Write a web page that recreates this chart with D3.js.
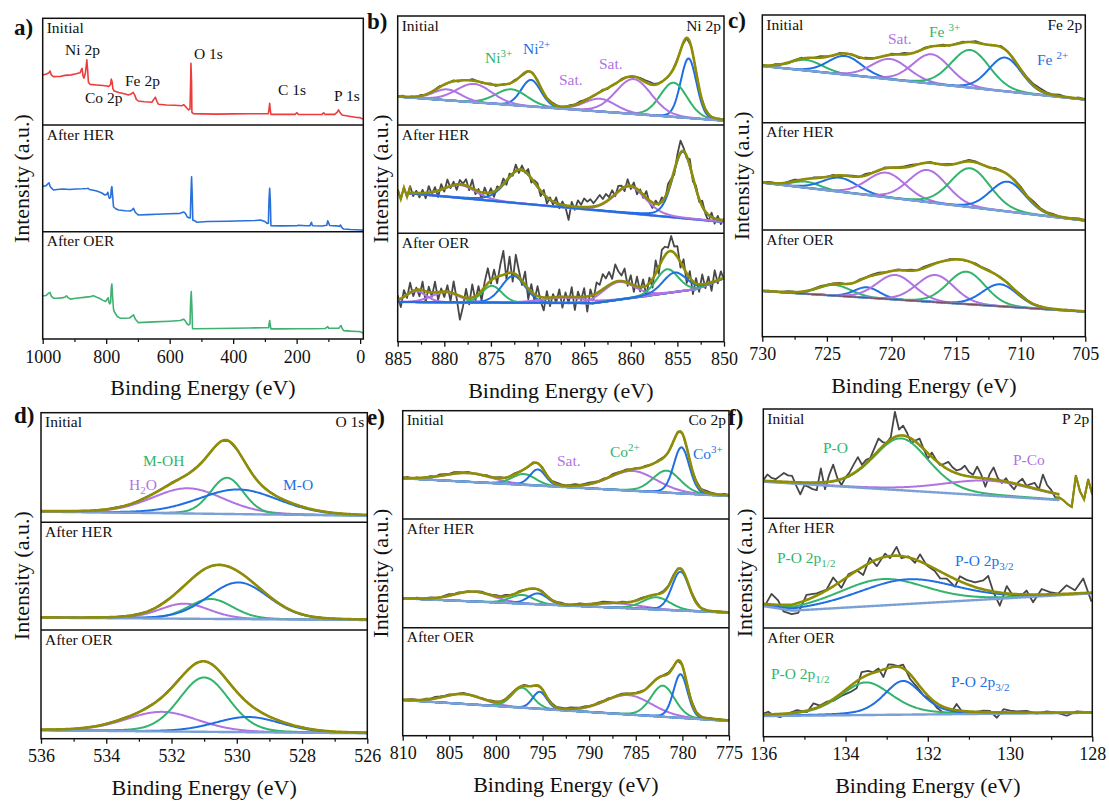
<!DOCTYPE html>
<html><head><meta charset="utf-8">
<script src="https://d3js.org/d3.v7.min.js"></script>
<style>
body{margin:0;background:#fff;}
svg, svg text{font-family:"Liberation Serif","Times New Roman",serif !important;}
</style></head><body>
<svg id="chart" width="1109" height="803" xmlns="http://www.w3.org/2000/svg"></svg>
<script>
// ================= DATA =================
const sampleNames = ["Initial", "After HER", "After OER"];
const panelLetters = ["a)", "b)", "c)", "d)", "e)", "f)"];
const coreLevels = ["", "Ni 2p", "Fe 2p", "O 1s", "Co 2p", "P 2p"];
const xTitle = "Binding Energy (eV)";
const yTitle = "Intensity (a.u.)";

const ticksA = [1000, 800, 600, 400, 200, 0];
const minorA = [900, 700, 500, 300, 100];
const ticksNi = [885, 880, 875, 870, 865, 860, 855, 850];
const minorNi = [882.5, 877.5, 872.5, 867.5, 862.5, 857.5, 852.5];
const ticksFe = [730, 725, 720, 715, 710, 705];
const minorFe = [727.5, 722.5, 717.5, 712.5, 707.5];
const ticksO = [536, 534, 532, 530, 528, 526];
const minorO = [535, 533, 531, 529, 527];
const ticksCo = [810, 805, 800, 795, 790, 785, 780, 775];
const minorCo = [807.5, 802.5, 797.5, 792.5, 787.5, 782.5, 777.5];
const ticksP = [136, 134, 132, 130, 128];
const minorP = [135, 133, 131, 129];

// survey spectra: [binding energy, relative intensity]
const surveyInitial = [[1000,47],[990,47.5],[980,49],[977,50.6],[973,47],[966,45.3],[955,45.5],[945,45.5],[930,46.5],[910,47],[895,48],[882,49],[878,52],[876,53],[873,46],[870,44],[866,48],[863,55],[861,61],[859,54],[856,40],[851,38.1],[830,37.5],[810,37],[798,36.6],[792,36],[786,38],[784,43],[781,40],[779,34],[775,31.9],[760,30.5],[740,29],[730,28.1],[722,29],[715,30.6],[710,28],[705,24],[699,22.5],[680,21.8],[665,21.5],[656,21.3],[650,24],[645,26],[640,22],[635,19.4],[610,18.8],[585,18.5],[561,18.1],[556,19],[552,18],[545,15.5],[540,14.1],[536,15],[534,40],[533,57.8],[531,40],[530,11.9],[525,10.6],[500,10.4],[450,10.2],[400,10.4],[350,10.5],[300,10.5],[289,10.6],[287,15],[285,20.3],[283,14],[281,10],[250,10],[205,10],[199,11.5],[195,10],[150,9.8],[120,10],[115,11.5],[110,10],[80,10],[72,12],[68,14.1],[64,12],[57,9.4],[40,8.5],[30,8],[20,7.5],[10,7],[0,6.9],[-5,6],[-10,5.6]];
const surveyHER = [[1000,42.5],[990,43],[983,45],[980,45.9],[976,42],[966,39.1],[955,39.5],[935,40],[915,39.5],[895,40],[875,40.2],[860,40.5],[857,40.7],[853,39.5],[840,38.8],[830,38.1],[815,36.5],[804,34.4],[798,35],[795,37],[792,33],[790,31.3],[786,32],[784,40],[782,42.2],[780,35],[777,23.4],[770,21.5],[761,20.3],[740,19.7],[724,19.4],[718,20.5],[714,21.9],[708,18],[699,15.7],[670,16],[640,16.3],[600,16.8],[567,17.2],[556,18.5],[550,17],[545,14],[540,13.1],[535,13],[533,35],[531,51.5],[529,35],[527,11],[520,10],[514,8.8],[480,9.5],[420,9.8],[360,10.2],[330,10.5],[314,11],[300,9.5],[293,7.8],[289,8],[287,30],[285,40.7],[283,30],[281,5.6],[250,5.5],[199,5.6],[195,6],[170,5.6],[158,5.6],[155,8],[153,8.8],[151,6],[148,5.6],[120,5.4],[105,6],[102,10.3],[99,8],[96,5.8],[75,5.5],[65,5],[62,6.3],[58,4],[52,2.5],[30,2],[10,1.8],[0,1.6],[-10,1.5]];
const surveyOER = [[1000,40],[990,40.5],[980,43],[977,43.4],[973,40],[966,38.1],[955,38],[940,38.3],[930,39],[925,40.3],[920,38.5],[913,37.2],[895,38],[870,38.8],[850,39.5],[840,40.3],[830,39],[823,38.2],[810,36],[802,35],[797,37],[794,38.5],[791,34],[789,32.8],[786,34],[784,48],[782,51.3],[780,40],[777,28],[775,25.6],[765,21],[756,19.4],[740,19.4],[727,19.6],[720,21],[714,22.5],[708,18.5],[699,15.3],[650,16],[600,16.6],[567,17.2],[556,18.5],[550,16.5],[545,14],[540,13.1],[536,14],[534,35],[532,44.3],[530,30],[528,9.7],[520,9.6],[450,9.8],[400,10],[350,10.3],[300,10.5],[288,10.6],[287,14],[285,17.2],[283,13],[281,9.4],[250,9.4],[200,9.5],[150,9.6],[110,9.8],[104,11],[102,11.5],[99,10],[67,10],[62,12],[60,12.5],[57,10],[52,7.8],[30,7.3],[10,7],[0,6.9],[-10,5.3]];
const surveyLabels = ["Ni 2p", "Co 2p", "Fe 2p", "O 1s", "C 1s", "P 1s"];

// fitted components: [center eV, height, FWHM eV, species]; backgrounds: [eV, intensity]
const niInitialBg = [[885,26],[850,4]];
const niInitialPeaks = [[853.8,54.6,2.0,"Ni2+"],[855.4,31.4,3.4,"Ni3+"],[859.7,32,4.5,"Sat."],[863.3,11.7,4,"Sat."],[870.7,24.3,2.5,"Ni2+"],[872.8,14.4,4,"Ni3+"],[876.8,16.8,4.5,"Sat."],[879.7,10,3.5,"Sat."]];
const niInitialNoise = [0,1,-1,0.5,-0.5,1,0,-1,0.5,1,-0.5,0,1,-1,0.5,0,1.5,0.5,-0.5,0,1,-1,0,0.5,-0.5,1,0,-1,0,0.5,1,-0.5,0,1,0.5,-0.5,0,1,0.5,1.5,1,0.5,-0.5,0,1,-1,0.5,0,1,0.5,-0.5,0,1,1.5,2,1,0.5,0,-0.5,0.5,1,0,-0.5,0.5,0,-1,0.5,0,-0.5,0.5,0];
const niHERBg = [[883.8,36.9],[850,10.4]];
const niHERPeaks = [[878.3,11.9,4,"Sat."],[871.8,30.8,3.8,"Ni2+"],[860.1,24.7,4,"Sat."],[854.4,61.4,2.6,"Ni2+"]];
const niHERNoise = [3,-6,5,-4,6,-3,2,-4,3,-5,6,-2,4,-6,5,-3,7,-2,3,-5,4,1,6,-3,8,-4,2,-6,5,-2,4,-5,3,-1,5,-4,3,-2,6,-3,4,-1,5,-4,2,3,-5,4,-6,2,-3,5,-4,3,-2,-13,4,-3,6,2,8,5,7,3,6,9,4,7,2,6,-2,5,3,-4,6,-3,4,-5,2,-3,6,-2,-5,3,-1,4,-3,6,2,-4,5,11,3,-2,6,-4,3,-3,5,-2,-6,4,-5,3,-4,2];
const niOERBg = [[885,36.6],[864,35.5],[853,48.5],[850,58.5]];
const niOERPeaks = [[883,10,2.5,"Sat."],[879.9,9.2,3.5,"Sat."],[874.9,15.5,2.5,"Ni3+"],[872.6,24.8,3,"Ni2+"],[867,5,6,"Sat."],[861.3,16.3,4,"Sat."],[856.1,22,2.8,"Ni3+"],[855.3,18,3,"Ni2+"]];
const niOERNoise = [4,-8,6,-3,9,-5,2,-6,8,-10,5,-4,10,-7,3,-5,6,-8,11,-4,-22,-9,8,-6,12,-4,7,-9,5,14,-3,8,-6,10,22,-5,15,-8,18,6,-4,12,-10,7,-6,9,-4,-12,6,-8,3,-5,7,-10,4,-6,9,-12,5,-3,8,-14,6,-4,10,6,14,8,12,4,16,9,5,12,-3,8,-6,9,-4,7,-10,5,-8,12,-6,10,8,4,14,6,10,-5,8,-9,6,-12,5,-7,9,-4,6,-8,10,-3,7,-2];

const feInitialBg = [[730,52.6],[705,21.4]];
const feInitialPeaks = [[726.6,9.9,3,"Fe3+"],[723.6,17.3,3.1,"Fe2+"],[720.1,18.9,3.4,"Sat."],[716.9,27.3,3.4,"Sat."],[713.9,35,3.5,"Fe3+"],[711.2,31.3,3,"Fe2+"]];
const feInitialNoise = [0.5,-0.5,1,0,-1,0.5,1,-0.5,0,1.5,0.5,-0.5,1,0,0.5,-1,1,0.5,0,-0.5,1,0.5,1.5,0,-0.5,1,0.5,0,1,-0.5,0.5,1,0,1.5,0.5,-0.5,0,1,0.5,-1,0.5,1,1.5,2,1,0.5,1.5,0,-0.5,1,0];
const feHERBg = [[730,44.1],[705,8.7]];
const feHERPeaks = [[726.6,5.7,2.5,"Fe3+"],[724,13.1,3.2,"Fe2+"],[720.4,22.9,3.5,"Sat."],[717.2,29.9,3.5,"Sat."],[713.9,36.2,3.6,"Fe3+"],[711,27.8,3.2,"Fe2+"]];
const feHERNoise = [0,1,0.5,-0.5,1,1.5,0,-0.5,1,0.5,0,1,-1,0.5,1,0,1.5,0.5,-0.5,1,0,0.5,1,1.5,0.5,0,1,-0.5,0.5,1,0,0.5,1.5,1,0,-0.5,1,0.5,0,1,1.5,0.5,2,1,0.5,1,0,-0.5,0.5,1,0];
const feOERBg = [[730,42.8],[705,23.4]];
const feOERPeaks = [[724.4,10,3,"Fe3+"],[721.9,9.8,2.3,"Fe2+"],[719.7,23,3.4,"Sat."],[716.6,25.4,3.4,"Sat."],[714.2,30.4,3.4,"Fe3+"],[711.6,20.6,3.2,"Fe2+"]];
const feOERNoise = [0,0.5,-0.5,0,1,0.5,0,-0.5,0.5,1,0,0.5,1,0,-0.5,1,0.5,1,1.5,0.5,0,1,0.5,1,0,1.5,1,0.5,0,1,0.5,-0.5,0,1,0.5,1,0,-0.5,0.5,0,1,0.5,0,0.5,-0.5,0,-1,0.5,0,-0.5,0];

const oInitialBg = [[536,9.7],[526,6]];
const oInitialPeaks = [[531.5,23,2.6,"H2O"],[530.3,33,1.2,"M-OH"],[529.95,22.5,2.9,"M-O"]];
const oInitialNoise = [0,0.3,-0.3,0.2,0,0.4,-0.2,0.3,0,0.5,0.2,-0.3,0.4,0.6,0.3,0.5,0.8,0.4,0.2,0.5,0.3,0,0.4,0.2,-0.2,0.3,0.1,0,0.3,-0.2,0.2,0,0.3,-0.3,0.1,0.2,-0.2,0,0.2,-0.1,0];
const oHERBg = [[536,11.4],[526,9.3]];
const oHERPeaks = [[531.6,14,1.8,"H2O"],[530.8,18.5,1.6,"M-OH"],[529.95,34,2.2,"M-O"]];
const oHERNoise = [0,-0.2,0.3,0,0.2,-0.3,0.3,0.1,0.4,0,0.5,0.3,0.6,0.2,0.4,0.7,0.3,0.5,0.2,0.6,0.4,0.1,0.3,0.5,0,0.2,-0.2,0.3,0,0.2,0.1,-0.2,0.2,0,0.3,-0.1,0.1,0.2,0,-0.2,0];
const oOERBg = [[536,7.7],[526,5]];
const oOERPeaks = [[532.3,18,2.6,"H2O"],[531,50,1.8,"M-OH"],[529.65,14,2.4,"M-O"]];
const oOERNoise = [0,0.2,-0.2,0.3,0.1,0,0.3,-0.2,0.4,0.2,0.5,0.3,0.2,0.6,0.4,0.3,0.7,0.5,0.3,0.6,0.2,0.4,0.3,0.1,0.4,0.2,0,0.3,-0.2,0.2,0.1,0,0.3,-0.1,0.2,0,-0.2,0.1,0,0.2,0];

const coInitialBg = [[810,37.6],[775,21.2]];
const coInitialPeaks = [[803,8,6,"Sat."],[797,10,3,"Co2+"],[795.5,15,2,"Co3+"],[785.3,18.3,6,"Sat."],[781.7,20.3,3.5,"Co2+"],[780.1,42.6,2,"Co3+"]];
const coInitialNoise = [0,1,-0.5,0.5,-1,0.5,1,0,1.5,1,0.5,1.5,1,0.5,1,0,0.5,-0.5,1,0,0.5,1,-0.5,0,1,0.5,0,-0.5,1,0.5,1,0,0.5,1.5,1,0.5,1,1.5,0.5,1,1.5,1,0.5,1,0,1.5,1,0.5,1,0,0.5,-0.5,1,0.5,0,1,0.5,-0.5,0,1,0.5,0,-0.5,1,0.5,1.5,1,0.5,0,1,0.5];
const coHERBg = [[810,27],[775,13.8]];
const coHERPeaks = [[802.4,9,5,"Sat."],[797.2,8,3,"Co2+"],[795.5,10,2.5,"Co3+"],[786.9,4,6,"Sat."],[782.8,11.3,3.5,"Co2+"],[780.2,35.8,2.2,"Co3+"]];
const coHERNoise = [0,0.5,-0.5,1,0,0.5,1,0.5,0,1,1.5,0.5,1,0,0.5,-0.5,0.5,1,0,0.5,1,0.5,1.5,0.5,0,1,0.5,0,-0.5,0.5,1,0.5,0,0.5,1,0,-0.5,0.5,1,0.5,0,0.5,1,1.5,1,0.5,0,1,0.5,0,0.5,1,0.5,0,-0.5,0.5,1,0.5,1.5,1,0.5,0,0.5,1,0,0.5,-0.5,0,0.5,0,0];
const coOERBg = [[810,33],[775,13.6]];
const coOERPeaks = [[803.5,9,5,"Sat."],[797.2,18.5,2.6,"Co2+"],[795.3,15.8,1.8,"Co3+"],[785.8,18,6,"Sat."],[782.1,28.8,3,"Co2+"],[780.2,40.4,1.8,"Co3+"]];
const coOERNoise = [0,0.5,1,0.5,0,1,0.5,1.5,1,0.5,1,0,0.5,1,0.5,0,-0.5,0.5,0,1,0.5,0,0.5,1,0.5,0,1,0.5,0,-0.5,0.5,0,1,0.5,1,0.5,1.5,1,0.5,1,0.5,0,1,0.5,1,0,0.5,1,0.5,0,0.5,1,0,0.5,0,-0.5,0.5,1,0.5,0,0.5,0,1,0.5,0,-0.5,0.5,0,0.5,0,0];

const pInitialBg = [[136,33.5],[128.8,16.7]];
const pInitialPeaks = [[132.65,47.4,1.6,"P-O"],[130.5,13.7,2.7,"P-Co"]];
const pInitialNoise = [0.5,6,3,2,5,8,6,5.7,-3,-11,-2.5,-4,-6,-7,12.7,-6.5,6,15,2,-5.5,0,3,8,12,2,3,1,6,11,4,-0.5,2,23,5.6,9,3,-4,1,6,0,-5,4,1,-1,3,7,4,2.6,5,9,4,2,10,3,-7.6,4,11,2,-2,3,-2,-5.6,2,6,0.5,3,5,0,14.6,6,2.4,-3.7,-3,-5,-8,-10,19,5,-2,16.5,3];
const pHERBg = [[136,20],[135.3,15.8],[128,31.6]];
const pHERPeaks = [[133.1,24,2.5,"P-O 2p1/2"],[132.5,22.5,2.8,"P-O 2p3/2"]];
const pHERNoise = [[135.96,-1.5],[135.8,9.6],[135.64,4],[135.51,-6],[135.31,-8.6],[135.15,-9],[134.95,4.6],[134.7,2],[134.46,0.7],[134.3,8],[134.1,-6.3],[133.93,1.8],[133.73,0.4],[133.57,-7.7],[133.41,4.5],[133.24,-6],[133.04,3],[132.92,-2],[132.76,8],[132.64,-2],[132.47,1],[132.31,-3],[132.19,6.5],[132.03,-0.6],[131.83,-2.2],[131.7,-6.3],[131.54,-3.3],[131.34,-7],[131.22,4.5],[131.06,3.7],[130.85,4.2],[130.65,8.2],[130.53,13.3],[130.41,0],[130.25,-12],[130.08,6.7],[129.92,-2.4],[129.76,-2.4],[129.6,3.6],[129.44,-7],[129.23,5],[129.03,2],[128.83,0.4],[128.63,7.7],[128.42,2.8],[128.22,13.3],[128.02,-8.2]];
const pOERBg = [[136,19],[128,22]];
const pOERPeaks = [[133.5,30,1.5,"P-O 2p1/2"],[132.6,31,1.1,"P-O 2p3/2"]];
const pOERNoise = [[136,0.9],[135.88,2.5],[135.76,-1],[135.59,-3],[135.38,0],[135.18,2.1],[134.94,-1.5],[134.78,5],[134.62,0.7],[134.46,1.3],[134.3,-1.7],[134.1,-2.6],[133.89,-5.5],[133.73,-6.5],[133.61,5.4],[133.45,3.5],[133.33,0.5],[133.2,2.5],[133.08,-6.8],[132.96,3.4],[132.84,2],[132.72,0.5],[132.6,3.4],[132.43,-4.3],[132.27,-4],[132.1,-4.1],[131.94,-1.1],[131.78,-4.2],[131.62,-5.4],[131.46,-4.8],[131.3,5.8],[131.13,-2.5],[130.97,-2],[130.81,0],[130.65,1.2],[130.49,1.1],[130.32,-5],[130.16,2.9],[130,1.6],[129.84,1],[129.6,1.6],[129.35,-1],[129.11,1],[128.87,0],[128.62,-3],[128.38,1],[128.02,0]];

// ================= STYLE / LAYOUT =================
const FONT = '"Liberation Serif", "Times New Roman", serif';
const COL = {blue:"#1f6fe3", green:"#33b46c", purple:"#b173e3", olive:"#8f8c05", raw:"#474747", bg:"#7aa0d6"};
const speciesColor = {"Ni2+":COL.blue,"Ni3+":COL.green,"Fe2+":COL.blue,"Fe3+":COL.green,"Co3+":COL.blue,"Co2+":COL.green,
  "M-O":COL.blue,"M-OH":COL.green,"H2O":COL.purple,"Sat.":COL.purple,"P-O":COL.green,"P-Co":COL.purple,
  "P-O 2p3/2":COL.blue,"P-O 2p1/2":COL.green};
const surveyColors = ["#ee3b3b","#2a70da","#3fb171"];

const panels = [
  {box:{l:42.7,r:363.3,t:18.3,b:339}, divs:[125,231.7], domain:[1000,-10], ticks:ticksA, minor:minorA,
   letter:[14,35], ylab:29, survey:[surveyInitial,surveyHER,surveyOER]},
  {box:{l:397.7,r:724,t:16,b:341.7}, divs:[125,233.3], domain:[885,850], ticks:ticksNi, minor:minorNi,
   letter:[367,29], ylab:388, fits:[
    {bg:niInitialBg,peaks:niInitialPeaks,noise:niInitialNoise,eta:0.1,smooth:true},
    {bg:niHERBg,peaks:niHERPeaks,noise:niHERNoise,eta:0.25,tail:true,bgUnder:true},
    {bg:niOERBg,peaks:niOERPeaks,noise:niOERNoise,eta:0.15,bgUnder:true}]},
  {box:{l:762.3,r:1085.3,t:15,b:336.7}, divs:[122.7,230], domain:[730,705], ticks:ticksFe, minor:minorFe,
   letter:[728,28], ylab:749, fits:[
    {bg:feInitialBg,peaks:feInitialPeaks,noise:feInitialNoise,eta:0.1,smooth:true},
    {bg:feHERBg,peaks:feHERPeaks,noise:feHERNoise,eta:0.1,smooth:true},
    {bg:feOERBg,peaks:feOERPeaks,noise:feOERNoise,eta:0.1,smooth:true,bgColor:"#7a4c5c"}]},
  {box:{l:41,r:367.3,t:412.7,b:738.7}, divs:[522.3,630], domain:[536,526], ticks:ticksO, minor:minorO,
   letter:[14,423], ylab:29, fits:[
    {bg:oInitialBg,peaks:oInitialPeaks,noise:oInitialNoise,eta:0.15,smooth:true},
    {bg:oHERBg,peaks:oHERPeaks,noise:oHERNoise,eta:0.15,smooth:true},
    {bg:oOERBg,peaks:oOERPeaks,noise:oOERNoise,eta:0.15,smooth:true}]},
  {box:{l:402.7,r:729,t:410.7,b:735.7}, divs:[519,627.7], domain:[810,775], ticks:ticksCo, minor:minorCo,
   letter:[367,425], ylab:388, fits:[
    {bg:coInitialBg,peaks:coInitialPeaks,noise:coInitialNoise,eta:0.15,smooth:true},
    {bg:coHERBg,peaks:coHERPeaks,noise:coHERNoise,eta:0.15,smooth:true},
    {bg:coOERBg,peaks:coOERPeaks,noise:coOERNoise,eta:0.15,smooth:true}]},
  {box:{l:763.3,r:1092.3,t:409,b:736.7}, divs:[518.3,628], domain:[136,128], ticks:ticksP, minor:minorP,
   letter:[728,425], ylab:752, fits:[
    {bg:pInitialBg,peaks:pInitialPeaks,noise:pInitialNoise,eta:0.25,tail:true},
    {bg:pHERBg,peaks:pHERPeaks,noise:pHERNoise,eta:0.2},
    {bg:pOERBg,peaks:pOERPeaks,noise:pOERNoise,eta:0.4}]}
];

// annotation placement (pixels)
const notes = [
  [{t:"Ni 2p",x:65,y:55},{t:"Co 2p",x:85,y:103},{t:"Fe 2p",x:125,y:86},{t:"O 1s",x:194,y:59},{t:"C 1s",x:278,y:95},{t:"P 1s",x:334,y:101}],
  [{t:"Ni",sup:"3+",c:COL.green,x:485,y:63},{t:"Ni",sup:"2+",c:COL.blue,x:523,y:54},{t:"Sat.",c:COL.purple,x:559,y:85},{t:"Sat.",c:COL.purple,x:599,y:69}],
  [{t:"Sat.",c:COL.purple,x:888,y:44},{t:"Fe ",sup:"3+",c:COL.green,x:929,y:37},{t:"Fe ",sup:"2+",c:COL.blue,x:1037,y:65}],
  [{t:"M-OH",c:COL.green,x:143,y:466},{t:"H",sub:"2",t2:"O",c:COL.purple,x:129,y:490},{t:"M-O",c:COL.blue,x:283,y:490}],
  [{t:"Sat.",c:COL.purple,x:557,y:466},{t:"Co",sup:"2+",c:COL.green,x:610,y:457},{t:"Co",sup:"3+",c:COL.blue,x:693,y:459}],
  [{t:"P-O",c:COL.green,x:823,y:453},{t:"P-Co",c:COL.purple,x:1013,y:465},
   {t:"P-O 2p",sub:"1/2",c:COL.green,x:777,y:563},{t:"P-O 2p",sub:"3/2",c:COL.blue,x:955,y:566},
   {t:"P-O 2p",sub:"1/2",c:COL.green,x:771,y:679},{t:"P-O 2p",sub:"3/2",c:COL.blue,x:951,y:687}]
];

// ================= DRAW =================
const svg = d3.select("#chart").style("font-family", FONT);
svg.append("rect").attr("width",1109).attr("height",803).attr("fill","#fff");
let clipId = 0;

function bgAt(knots, E){
  const k = knots.slice().sort((a,b)=>b[0]-a[0]);
  if (E >= k[0][0]) return k[0][1];
  if (E <= k[k.length-1][0]) return k[k.length-1][1];
  for (let i=0;i<k.length-1;i++){
    if (E<=k[i][0] && E>=k[i+1][0]){ const t=(k[i][0]-E)/(k[i][0]-k[i+1][0]); return k[i][1]+t*(k[i+1][1]-k[i][1]); }
  }
}
function comp(E,p,eta){ const d=(E-p[0])/p[2]; return p[1]*((1-eta)*Math.exp(-4*Math.LN2*d*d)+eta/(1+4*d*d)); }
function txt(sel){ return sel.style("font-family", FONT); }

panels.forEach((P, pi) => {
  const g = svg.append("g");
  const b = P.box;
  const x = d3.scaleLinear().domain(P.domain).range([b.l, b.r]);
  const edges = [b.t, P.divs[0], P.divs[1], b.b];

  for (let s=0; s<3; s++){
    const top = edges[s], bot = edges[s+1];
    const y = d3.scaleLinear().domain([0,100]).range([bot, top]);
    const id = "clip"+(clipId++);
    svg.append("clipPath").attr("id",id).append("rect").attr("x",b.l).attr("y",top).attr("width",b.r-b.l).attr("height",bot-top);
    const sg = g.append("g").attr("clip-path",`url(#${id})`);
    const line = d3.line().x(d=>x(d[0])).y(d=>y(d[1]));
    if (P.survey){
      sg.append("path").datum(P.survey[s]).attr("d",line).attr("fill","none")
        .attr("stroke",surveyColors[s]).attr("stroke-width",1.6).attr("stroke-linejoin","round");
    } else {
      const F = P.fits[s];
      const eta = F.eta;
      const hi = d3.max(F.bg,d=>d[0]), lo = d3.min(F.bg,d=>d[0]);
      const env = E => bgAt(F.bg,E) + d3.sum(F.peaks, p=>comp(E,p,eta));
      const N = 400, grid = d3.range(N+1).map(i=>hi-(hi-lo)*i/N);
      const [D0,D1] = P.domain;
      const raw = F.noise.map((r,i)=> Array.isArray(r) ? [r[0], env(r[0])+r[1]]
         : (()=>{ const E = D0-(D0-D1)*i/(F.noise.length-1); return [E, env(E)+r]; })());
      sg.append("path").datum(raw).attr("d",line).attr("fill","none")
        .attr("stroke",COL.raw).attr("stroke-width",F.smooth?1.6:1.8).attr("stroke-linejoin","round");
      const drawBg = () => {
        sg.append("path").datum(grid.map(E=>[E,bgAt(F.bg,E)])).attr("d",line).attr("fill","none")
          .attr("stroke",COL.bg).attr("stroke-width",2.4);
        if (F.bgColor) sg.append("path").datum(grid.map(E=>[E,bgAt(F.bg,E)])).attr("d",line).attr("fill","none")
          .attr("stroke",F.bgColor).attr("stroke-width",1.3);
      };
      if (F.bgUnder) drawBg();
      F.peaks.forEach(p=>{
        sg.append("path").datum(grid.map(E=>[E,bgAt(F.bg,E)+comp(E,p,eta)])).attr("d",line)
          .attr("fill","none").attr("stroke",speciesColor[p[3]]).attr("stroke-width",2);
      });
      if (!F.bgUnder) drawBg();
      sg.append("path").datum(grid.map(E=>[E,env(E)])).attr("d",line).attr("fill","none")
        .attr("stroke",COL.olive).attr("stroke-width",2.6);
      if (F.tail){
        const left = raw.filter(d=>d[0]>=hi-0.4), right = raw.filter(d=>d[0]<=lo+0.1);
        if (left.length>1 && hi<D0-0.2) sg.append("path").datum(left).attr("d",line).attr("fill","none").attr("stroke",COL.olive).attr("stroke-width",2.2);
        if (right.length>1 && lo>D1+0.2) sg.append("path").datum(right).attr("d",line).attr("fill","none").attr("stroke",COL.olive).attr("stroke-width",2.2);
      }
    }
    txt(g.append("text")).attr("x",b.l+4).attr("y",top+14.5).attr("font-size",15.5).attr("fill","#111").text(sampleNames[s]);
  }

  g.append("rect").attr("x",b.l).attr("y",b.t).attr("width",b.r-b.l).attr("height",b.b-b.t)
    .attr("fill","none").attr("stroke","#111").attr("stroke-width",1.5);
  P.divs.forEach(d=> g.append("line").attr("x1",b.l).attr("x2",b.r).attr("y1",d).attr("y2",d).attr("stroke","#111").attr("stroke-width",1.5));

  const ax = g.append("g").attr("transform",`translate(0,${b.b})`)
    .call(d3.axisBottom(x).tickValues(P.ticks).tickSize(5).tickSizeOuter(0).tickPadding(6).tickFormat(d3.format("d")));
  ax.attr("font-family", null).style("font-family", FONT);
  ax.select(".domain").remove();
  ax.selectAll("line").attr("stroke","#111").attr("stroke-width",1.3);
  ax.selectAll("text").attr("font-size",18).attr("fill","#111").style("font-family", FONT);
  const mx = g.append("g").attr("transform",`translate(0,${b.b})`)
    .call(d3.axisBottom(x).tickValues(P.minor).tickSize(3).tickFormat(""));
  mx.select(".domain").remove();
  mx.selectAll("line").attr("stroke","#111").attr("stroke-width",1.2);

  txt(g.append("text")).attr("x",(b.l+b.r)/2).attr("y",b.b+56).attr("text-anchor","middle").attr("font-size",22).attr("fill","#111").text(xTitle);
  txt(g.append("text")).attr("transform",`translate(${P.ylab},${(b.t+b.b)/2}) rotate(-90)`).attr("text-anchor","middle")
    .attr("font-size",22).attr("fill","#111").text(yTitle);
  txt(g.append("text")).attr("x",P.letter[0]).attr("y",P.letter[1]).attr("font-size",23).attr("font-weight","bold").attr("fill","#111").text(panelLetters[pi]);
  if (coreLevels[pi]) txt(g.append("text")).attr("x",b.r-3).attr("y",b.t+14.5).attr("text-anchor","end").attr("font-size",15.5).attr("fill","#111").text(coreLevels[pi]);

  notes[pi].forEach(n=>{
    const t = txt(g.append("text")).attr("x",n.x).attr("y",n.y).attr("font-size",15.5).attr("fill",n.c||"#111");
    t.append("tspan").text(n.t);
    if (n.sup) t.append("tspan").attr("dy",-6).attr("font-size",11).text(n.sup);
    if (n.sub) t.append("tspan").attr("dy",4).attr("font-size",11).text(n.sub);
    if (n.t2) t.append("tspan").attr("dy",-4).text(n.t2);
  });
});
</script>
</body></html>
